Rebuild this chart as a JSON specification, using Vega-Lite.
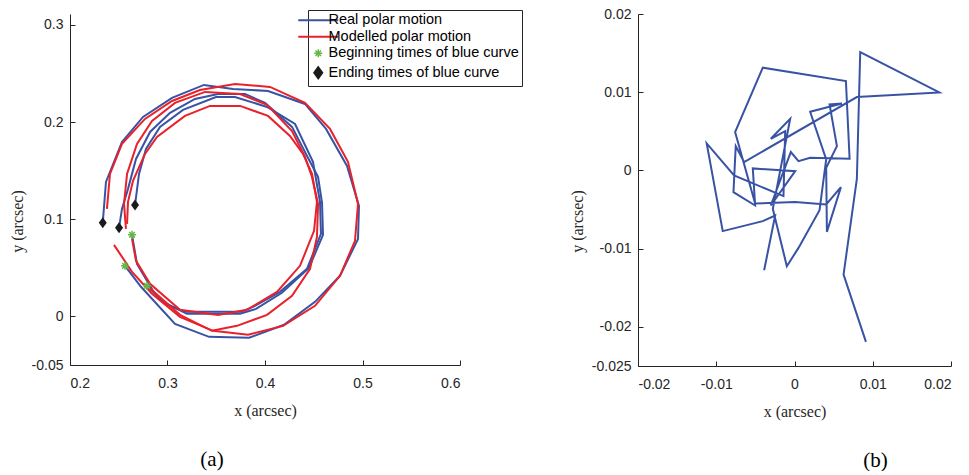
{
  "$schema": "https://vega.github.io/schema/vega-lite/v6.json",
  "background": "white",
  "padding": {"left": 9, "top": 7, "right": 0, "bottom": 0},
  "config": {
    "view": {"stroke": null},
    "axis": {
      "grid": false,
      "domainColor": "#262626",
      "tickColor": "#262626",
      "labelColor": "#262626",
      "labelFont": "Liberation Sans",
      "labelFontSize": 14,
      "titleFont": "Liberation Serif",
      "titleFontSize": 16,
      "titleFontWeight": "normal",
      "titleColor": "#262626",
      "tickSize": -5,
      "domainWidth": 1,
      "tickWidth": 1
    },
    "axisX": {"labelPadding": 16, "titlePadding": 12},
    "axisY": {"labelPadding": 12, "titlePadding": 6, "titleY": 207}
  },
  "bounds": "flush",
  "spacing": 178,
  "resolve": {"scale": {"color": "independent"}},
  "datasets": {
    "lines": [
      {"series": "Real polar motion", "seg": "b1", "i": 0, "x": 0.2564, "y": 0.0521},
      {"series": "Real polar motion", "seg": "b1", "i": 1, "x": 0.2728, "y": 0.0305},
      {"series": "Real polar motion", "seg": "b1", "i": 2, "x": 0.3077, "y": -0.0076},
      {"series": "Real polar motion", "seg": "b1", "i": 3, "x": 0.3426, "y": -0.0210},
      {"series": "Real polar motion", "seg": "b1", "i": 4, "x": 0.3836, "y": -0.0220},
      {"series": "Real polar motion", "seg": "b1", "i": 5, "x": 0.4195, "y": -0.0086},
      {"series": "Real polar motion", "seg": "b1", "i": 6, "x": 0.4513, "y": 0.0150},
      {"series": "Real polar motion", "seg": "b1", "i": 7, "x": 0.4769, "y": 0.0418},
      {"series": "Real polar motion", "seg": "b1", "i": 8, "x": 0.4954, "y": 0.0798},
      {"series": "Real polar motion", "seg": "b1", "i": 9, "x": 0.4964, "y": 0.1138},
      {"series": "Real polar motion", "seg": "b1", "i": 10, "x": 0.4841, "y": 0.1549},
      {"series": "Real polar motion", "seg": "b1", "i": 11, "x": 0.4626, "y": 0.1930},
      {"series": "Real polar motion", "seg": "b1", "i": 12, "x": 0.4410, "y": 0.2187},
      {"series": "Real polar motion", "seg": "b1", "i": 13, "x": 0.4031, "y": 0.2321},
      {"series": "Real polar motion", "seg": "b1", "i": 14, "x": 0.3672, "y": 0.2342},
      {"series": "Real polar motion", "seg": "b1", "i": 15, "x": 0.3374, "y": 0.2383},
      {"series": "Real polar motion", "seg": "b1", "i": 16, "x": 0.3046, "y": 0.2249},
      {"series": "Real polar motion", "seg": "b1", "i": 17, "x": 0.2749, "y": 0.2053},
      {"series": "Real polar motion", "seg": "b1", "i": 18, "x": 0.2533, "y": 0.1796},
      {"series": "Real polar motion", "seg": "b1", "i": 19, "x": 0.2369, "y": 0.1385},
      {"series": "Real polar motion", "seg": "b1", "i": 20, "x": 0.2336, "y": 0.0965},

      {"series": "Real polar motion", "seg": "b2", "i": 0, "x": 0.2636, "y": 0.0840},
      {"series": "Real polar motion", "seg": "b2", "i": 1, "x": 0.2687, "y": 0.0541},
      {"series": "Real polar motion", "seg": "b2", "i": 2, "x": 0.2851, "y": 0.0263},
      {"series": "Real polar motion", "seg": "b2", "i": 3, "x": 0.2974, "y": 0.0130},
      {"series": "Real polar motion", "seg": "b2", "i": 4, "x": 0.3179, "y": 0.0047},
      {"series": "Real polar motion", "seg": "b2", "i": 5, "x": 0.3754, "y": 0.0047},
      {"series": "Real polar motion", "seg": "b2", "i": 6, "x": 0.3877, "y": 0.0099},
      {"series": "Real polar motion", "seg": "b2", "i": 7, "x": 0.4154, "y": 0.0253},
      {"series": "Real polar motion", "seg": "b2", "i": 8, "x": 0.4431, "y": 0.0490},
      {"series": "Real polar motion", "seg": "b2", "i": 9, "x": 0.4574, "y": 0.0850},
      {"series": "Real polar motion", "seg": "b2", "i": 10, "x": 0.4564, "y": 0.1179},
      {"series": "Real polar motion", "seg": "b2", "i": 11, "x": 0.4492, "y": 0.1591},
      {"series": "Real polar motion", "seg": "b2", "i": 12, "x": 0.4308, "y": 0.1981},
      {"series": "Real polar motion", "seg": "b2", "i": 13, "x": 0.4021, "y": 0.2156},
      {"series": "Real polar motion", "seg": "b2", "i": 14, "x": 0.3692, "y": 0.2259},
      {"series": "Real polar motion", "seg": "b2", "i": 15, "x": 0.3497, "y": 0.2259},
      {"series": "Real polar motion", "seg": "b2", "i": 16, "x": 0.3159, "y": 0.2126},
      {"series": "Real polar motion", "seg": "b2", "i": 17, "x": 0.2923, "y": 0.1951},
      {"series": "Real polar motion", "seg": "b2", "i": 18, "x": 0.2779, "y": 0.1724},
      {"series": "Real polar motion", "seg": "b2", "i": 19, "x": 0.2708, "y": 0.1467},
      {"series": "Real polar motion", "seg": "b2", "i": 20, "x": 0.2667, "y": 0.1148},

      {"series": "Real polar motion", "seg": "b3", "i": 0, "x": 0.2790, "y": 0.0315},
      {"series": "Real polar motion", "seg": "b3", "i": 1, "x": 0.2954, "y": 0.0150},
      {"series": "Real polar motion", "seg": "b3", "i": 2, "x": 0.3200, "y": 0.0027},
      {"series": "Real polar motion", "seg": "b3", "i": 3, "x": 0.3744, "y": 0.0027},
      {"series": "Real polar motion", "seg": "b3", "i": 4, "x": 0.3908, "y": 0.0078},
      {"series": "Real polar motion", "seg": "b3", "i": 5, "x": 0.4174, "y": 0.0243},
      {"series": "Real polar motion", "seg": "b3", "i": 6, "x": 0.4451, "y": 0.0500},
      {"series": "Real polar motion", "seg": "b3", "i": 7, "x": 0.4595, "y": 0.0840},
      {"series": "Real polar motion", "seg": "b3", "i": 8, "x": 0.4585, "y": 0.1169},
      {"series": "Real polar motion", "seg": "b3", "i": 9, "x": 0.4544, "y": 0.1436},
      {"series": "Real polar motion", "seg": "b3", "i": 10, "x": 0.4431, "y": 0.1652},
      {"series": "Real polar motion", "seg": "b3", "i": 11, "x": 0.4277, "y": 0.1951},
      {"series": "Real polar motion", "seg": "b3", "i": 12, "x": 0.4000, "y": 0.2198},
      {"series": "Real polar motion", "seg": "b3", "i": 13, "x": 0.3795, "y": 0.2290},
      {"series": "Real polar motion", "seg": "b3", "i": 14, "x": 0.3518, "y": 0.2290},
      {"series": "Real polar motion", "seg": "b3", "i": 15, "x": 0.3282, "y": 0.2239},
      {"series": "Real polar motion", "seg": "b3", "i": 16, "x": 0.3026, "y": 0.2095},
      {"series": "Real polar motion", "seg": "b3", "i": 17, "x": 0.2821, "y": 0.1899},
      {"series": "Real polar motion", "seg": "b3", "i": 18, "x": 0.2677, "y": 0.1621},
      {"series": "Real polar motion", "seg": "b3", "i": 19, "x": 0.2595, "y": 0.1313},
      {"series": "Real polar motion", "seg": "b3", "i": 20, "x": 0.2533, "y": 0.1107},
      {"series": "Real polar motion", "seg": "b3", "i": 21, "x": 0.2503, "y": 0.0912},

      {"series": "Modelled polar motion", "seg": "r1", "i": 0, "x": 0.2451, "y": 0.0737},
      {"series": "Modelled polar motion", "seg": "r1", "i": 1, "x": 0.2636, "y": 0.0459},
      {"series": "Modelled polar motion", "seg": "r1", "i": 2, "x": 0.2841, "y": 0.0233},
      {"series": "Modelled polar motion", "seg": "r1", "i": 3, "x": 0.3128, "y": -0.0004},
      {"series": "Modelled polar motion", "seg": "r1", "i": 4, "x": 0.3467, "y": -0.0148},
      {"series": "Modelled polar motion", "seg": "r1", "i": 5, "x": 0.3826, "y": -0.0189},
      {"series": "Modelled polar motion", "seg": "r1", "i": 6, "x": 0.4185, "y": -0.0097},
      {"series": "Modelled polar motion", "seg": "r1", "i": 7, "x": 0.4513, "y": 0.0109},
      {"series": "Modelled polar motion", "seg": "r1", "i": 8, "x": 0.4769, "y": 0.0418},
      {"series": "Modelled polar motion", "seg": "r1", "i": 9, "x": 0.4923, "y": 0.0778},
      {"series": "Modelled polar motion", "seg": "r1", "i": 10, "x": 0.4954, "y": 0.1158},
      {"series": "Modelled polar motion", "seg": "r1", "i": 11, "x": 0.4851, "y": 0.1591},
      {"series": "Modelled polar motion", "seg": "r1", "i": 12, "x": 0.4667, "y": 0.1930},
      {"series": "Modelled polar motion", "seg": "r1", "i": 13, "x": 0.4410, "y": 0.2198},
      {"series": "Modelled polar motion", "seg": "r1", "i": 14, "x": 0.4051, "y": 0.2362},
      {"series": "Modelled polar motion", "seg": "r1", "i": 15, "x": 0.3692, "y": 0.2393},
      {"series": "Modelled polar motion", "seg": "r1", "i": 16, "x": 0.3333, "y": 0.2331},
      {"series": "Modelled polar motion", "seg": "r1", "i": 17, "x": 0.3046, "y": 0.2218},
      {"series": "Modelled polar motion", "seg": "r1", "i": 18, "x": 0.2769, "y": 0.2033},
      {"series": "Modelled polar motion", "seg": "r1", "i": 19, "x": 0.2533, "y": 0.1776},
      {"series": "Modelled polar motion", "seg": "r1", "i": 20, "x": 0.2410, "y": 0.1467},
      {"series": "Modelled polar motion", "seg": "r1", "i": 21, "x": 0.2379, "y": 0.1107},

      {"series": "Modelled polar motion", "seg": "r2", "i": 0, "x": 0.2636, "y": 0.0798},
      {"series": "Modelled polar motion", "seg": "r2", "i": 1, "x": 0.2677, "y": 0.0572},
      {"series": "Modelled polar motion", "seg": "r2", "i": 2, "x": 0.2821, "y": 0.0335},
      {"series": "Modelled polar motion", "seg": "r2", "i": 3, "x": 0.3128, "y": 0.0068},
      {"series": "Modelled polar motion", "seg": "r2", "i": 4, "x": 0.3518, "y": 0.0016},
      {"series": "Modelled polar motion", "seg": "r2", "i": 5, "x": 0.3815, "y": 0.0068},
      {"series": "Modelled polar motion", "seg": "r2", "i": 6, "x": 0.4123, "y": 0.0253},
      {"series": "Modelled polar motion", "seg": "r2", "i": 7, "x": 0.4359, "y": 0.0521},
      {"series": "Modelled polar motion", "seg": "r2", "i": 8, "x": 0.4503, "y": 0.0881},
      {"series": "Modelled polar motion", "seg": "r2", "i": 9, "x": 0.4533, "y": 0.1179},
      {"series": "Modelled polar motion", "seg": "r2", "i": 10, "x": 0.4482, "y": 0.1467},
      {"series": "Modelled polar motion", "seg": "r2", "i": 11, "x": 0.4390, "y": 0.1673},
      {"series": "Modelled polar motion", "seg": "r2", "i": 12, "x": 0.4256, "y": 0.1858},
      {"series": "Modelled polar motion", "seg": "r2", "i": 13, "x": 0.4031, "y": 0.2064},
      {"series": "Modelled polar motion", "seg": "r2", "i": 14, "x": 0.3744, "y": 0.2167},
      {"series": "Modelled polar motion", "seg": "r2", "i": 15, "x": 0.3436, "y": 0.2167},
      {"series": "Modelled polar motion", "seg": "r2", "i": 16, "x": 0.3179, "y": 0.2064},
      {"series": "Modelled polar motion", "seg": "r2", "i": 17, "x": 0.2892, "y": 0.1848},
      {"series": "Modelled polar motion", "seg": "r2", "i": 18, "x": 0.2769, "y": 0.1673},
      {"series": "Modelled polar motion", "seg": "r2", "i": 19, "x": 0.2646, "y": 0.1395},
      {"series": "Modelled polar motion", "seg": "r2", "i": 20, "x": 0.2595, "y": 0.1179},
      {"series": "Modelled polar motion", "seg": "r2", "i": 21, "x": 0.2585, "y": 0.0953},

      {"series": "Modelled polar motion", "seg": "r3", "i": 0, "x": 0.2790, "y": 0.0315},
      {"series": "Modelled polar motion", "seg": "r3", "i": 1, "x": 0.3128, "y": 0.0016},
      {"series": "Modelled polar motion", "seg": "r3", "i": 2, "x": 0.3456, "y": -0.0148},
      {"series": "Modelled polar motion", "seg": "r3", "i": 3, "x": 0.3713, "y": -0.0097},
      {"series": "Modelled polar motion", "seg": "r3", "i": 4, "x": 0.4021, "y": 0.0016},
      {"series": "Modelled polar motion", "seg": "r3", "i": 5, "x": 0.4277, "y": 0.0212},
      {"series": "Modelled polar motion", "seg": "r3", "i": 6, "x": 0.4462, "y": 0.0490},
      {"series": "Modelled polar motion", "seg": "r3", "i": 7, "x": 0.4533, "y": 0.0819},
      {"series": "Modelled polar motion", "seg": "r3", "i": 8, "x": 0.4544, "y": 0.1158},
      {"series": "Modelled polar motion", "seg": "r3", "i": 9, "x": 0.4482, "y": 0.1436},
      {"series": "Modelled polar motion", "seg": "r3", "i": 10, "x": 0.4410, "y": 0.1642},
      {"series": "Modelled polar motion", "seg": "r3", "i": 11, "x": 0.4277, "y": 0.1909},
      {"series": "Modelled polar motion", "seg": "r3", "i": 12, "x": 0.4021, "y": 0.2177},
      {"series": "Modelled polar motion", "seg": "r3", "i": 13, "x": 0.3744, "y": 0.2290},
      {"series": "Modelled polar motion", "seg": "r3", "i": 14, "x": 0.3385, "y": 0.2311},
      {"series": "Modelled polar motion", "seg": "r3", "i": 15, "x": 0.3077, "y": 0.2198},
      {"series": "Modelled polar motion", "seg": "r3", "i": 16, "x": 0.2841, "y": 0.2012},
      {"series": "Modelled polar motion", "seg": "r3", "i": 17, "x": 0.2687, "y": 0.1776},
      {"series": "Modelled polar motion", "seg": "r3", "i": 18, "x": 0.2585, "y": 0.1467},
      {"series": "Modelled polar motion", "seg": "r3", "i": 19, "x": 0.2554, "y": 0.1158},
      {"series": "Modelled polar motion", "seg": "r3", "i": 20, "x": 0.2574, "y": 0.0901}
    ],
    "markers": [
      {"series": "Beginning times of blue curve", "x": 0.2636, "y": 0.0840},
      {"series": "Beginning times of blue curve", "x": 0.2564, "y": 0.0521},
      {"series": "Beginning times of blue curve", "x": 0.2790, "y": 0.0315},
      {"series": "Ending times of blue curve", "x": 0.2336, "y": 0.0965},
      {"series": "Ending times of blue curve", "x": 0.2667, "y": 0.1148},
      {"series": "Ending times of blue curve", "x": 0.2503, "y": 0.0912}
    ],
    "walk": [
      {"i": 1, "x": 0.00913, "y": -0.02192},
      {"i": 2, "x": 0.00627, "y": -0.01331},
      {"i": 3, "x": 0.00797, "y": -0.00107},
      {"i": 4, "x": 0.00840, "y": 0.01514},
      {"i": 5, "x": 0.01851, "y": 0.00998},
      {"i": 6, "x": 0.00797, "y": 0.00938},
      {"i": 7, "x": -0.00644, "y": 0.00107},
      {"i": 8, "x": -0.00751, "y": 0.00311},
      {"i": 9, "x": -0.00780, "y": -0.00277},
      {"i": 10, "x": -0.00503, "y": -0.00448},
      {"i": 11, "x": -0.00533, "y": 0.00026},
      {"i": 12, "x": 0.00009, "y": -0.00009},
      {"i": 13, "x": -0.00303, "y": -0.00448},
      {"i": 14, "x": -0.00047, "y": 0.00235},
      {"i": 15, "x": 0.00051, "y": 0.00119},
      {"i": 16, "x": 0.00200, "y": 0.00162},
      {"i": 17, "x": 0.00704, "y": 0.00149},
      {"i": 18, "x": 0.00657, "y": 0.01143},
      {"i": 19, "x": -0.00405, "y": 0.01314},
      {"i": 20, "x": -0.00759, "y": 0.00491},
      {"i": 21, "x": -0.00503, "y": -0.00422},
      {"i": 22, "x": 0.00009, "y": -0.00405},
      {"i": 23, "x": 0.00405, "y": -0.00435},
      {"i": 24, "x": 0.00593, "y": -0.00213},
      {"i": 25, "x": 0.00414, "y": -0.00785},
      {"i": 26, "x": 0.00405, "y": 0.00034},
      {"i": 27, "x": 0.00542, "y": 0.00311},
      {"i": 28, "x": 0.00448, "y": 0.00845},
      {"i": 29, "x": 0.00606, "y": 0.00857},
      {"i": 30, "x": 0.00200, "y": 0.00751},
      {"i": 31, "x": 0.00405, "y": 0.00141},
      {"i": 32, "x": 0.00320, "y": -0.00508},
      {"i": 33, "x": 0.00051, "y": -0.00990},
      {"i": 34, "x": -0.00098, "y": -0.01224},
      {"i": 35, "x": -0.00277, "y": -0.00491},
      {"i": 36, "x": -0.00055, "y": 0.00661},
      {"i": 37, "x": -0.00303, "y": 0.00405},
      {"i": 38, "x": -0.00119, "y": 0.00503},
      {"i": 39, "x": -0.00141, "y": -0.00328},
      {"i": 40, "x": -0.00772, "y": -0.00064},
      {"i": 41, "x": -0.01122, "y": 0.00346},
      {"i": 42, "x": -0.00917, "y": -0.00776},
      {"i": 43, "x": -0.00405, "y": -0.00648},
      {"i": 44, "x": -0.00247, "y": -0.00576},
      {"i": 45, "x": -0.00388, "y": -0.01275}
    ]
  },
  "hconcat": [
    {
      "width": 390,
      "height": 351,
      "title": {"text": "(a)", "orient": "bottom", "anchor": "middle", "frame": "group", "dx": -53, "offset": 31, "font": "Liberation Serif", "fontSize": 21, "fontWeight": "normal", "color": "#000000"},
      "layer": [
        {
          "data": {"name": "lines"},
          "mark": {"type": "line", "strokeWidth": 2},
          "encoding": {
            "x": {"field": "x", "type": "quantitative", "scale": {"domain": [0.2, 0.6], "nice": false, "zero": false},
                  "axis": {"values": [0.2, 0.3, 0.4, 0.5, 0.6], "title": "x (arcsec)", "labelExpr": "replace(format(datum.value, '.2~f'), '\u2212', '-')"}},
            "y": {"field": "y", "type": "quantitative", "scale": {"domain": [-0.05, 0.3113], "nice": false, "zero": false},
                  "axis": {"values": [-0.05, 0, 0.1, 0.2, 0.3], "title": "y (arcsec)", "labelExpr": "replace(format(datum.value, '.2~f'), '\u2212', '-')"}},
            "color": {
              "field": "series", "type": "nominal",
              "scale": {"domain": ["Real polar motion", "Modelled polar motion", "Beginning times of blue curve", "Ending times of blue curve"],
                        "range": ["#3953a4", "#e8212b", "#63b846", "#1a1a1a"]},
              "legend": {
                "orient": "none", "legendX": 238, "legendY": -4, "title": null,
                "strokeColor": "#262626", "fillColor": "white", "padding": 3,
                "labelFont": "Liberation Sans", "labelFontSize": 14.5, "labelColor": "#000000", "labelLimit": 400,
                "symbolSize": 1600, "symbolStrokeWidth": 2, "symbolType": "stroke", "labelOffset": 3, "rowPadding": 1.5,
                "encode": {"symbols": {"update": {
                  "shape": {"signal": "datum.value == 'Beginning times of blue curve' ? 'M-1,0L1,0M0,-1L0,1M-0.7,-0.7L0.7,0.7M-0.7,0.7L0.7,-0.7' : (datum.value == 'Ending times of blue curve' ? 'M0,-1.1L0.8,0L0,1.1L-0.8,0Z' : 'stroke')"},
                  "size": {"signal": "datum.value == 'Beginning times of blue curve' ? 64 : (datum.value == 'Ending times of blue curve' ? 100 : 1600)"},
                  "stroke": {"signal": "datum.value == 'Real polar motion' ? '#3953a4' : (datum.value == 'Modelled polar motion' ? '#e8212b' : (datum.value == 'Beginning times of blue curve' ? '#63b846' : 'transparent'))"},
                  "fill": {"signal": "datum.value == 'Ending times of blue curve' ? '#1a1a1a' : 'transparent'"},
                  "strokeWidth": {"signal": "datum.value == 'Beginning times of blue curve' ? 1.5 : 2"},
                  "opacity": {"value": 1}
                }}}
              }
            },
            "detail": {"field": "seg"},
            "order": {"field": "i", "type": "quantitative"}
          }
        },
        {
          "data": {"name": "markers"},
          "transform": [{"filter": "datum.series == 'Beginning times of blue curve'"}],
          "mark": {"type": "point", "shape": "M-1,0L1,0M0,-1L0,1M-0.7,-0.7L0.7,0.7M-0.7,0.7L0.7,-0.7", "size": 64, "filled": false, "strokeWidth": 1.5, "opacity": 1},
          "encoding": {
            "x": {"field": "x", "type": "quantitative"},
            "y": {"field": "y", "type": "quantitative"},
            "color": {"field": "series", "type": "nominal"}
          }
        },
        {
          "data": {"name": "markers"},
          "transform": [{"filter": "datum.series == 'Ending times of blue curve'"}],
          "mark": {"type": "point", "shape": "M0,-1.1L0.8,0L0,1.1L-0.8,0Z", "size": 100, "filled": true, "opacity": 1},
          "encoding": {
            "x": {"field": "x", "type": "quantitative"},
            "y": {"field": "y", "type": "quantitative"},
            "color": {"field": "series", "type": "nominal"}
          }
        }
      ]
    },
    {
      "width": 313,
      "height": 352,
      "title": {"text": "(b)", "orient": "bottom", "anchor": "middle", "frame": "group", "dx": 81, "offset": 31, "font": "Liberation Serif", "fontSize": 21, "fontWeight": "normal", "color": "#000000"},
      "data": {"name": "walk"},
      "mark": {"type": "line", "strokeWidth": 2, "color": "#3953a4"},
      "encoding": {
        "x": {"field": "x", "type": "quantitative", "scale": {"domain": [-0.02, 0.02], "nice": false, "zero": false},
              "axis": {"values": [-0.02, -0.01, 0, 0.01, 0.02], "title": "x (arcsec)", "labelExpr": "replace(format(datum.value, '.2~f'), '\u2212', '-')"}},
        "y": {"field": "y", "type": "quantitative", "scale": {"domain": [-0.025, 0.02], "nice": false, "zero": false},
              "axis": {"values": [-0.025, -0.02, -0.01, 0, 0.01, 0.02], "title": "y (arcsec)", "labelExpr": "replace(format(datum.value, '.3~f'), '\u2212', '-')"}},
        "order": {"field": "i", "type": "quantitative"}
      }
    }
  ]
}
